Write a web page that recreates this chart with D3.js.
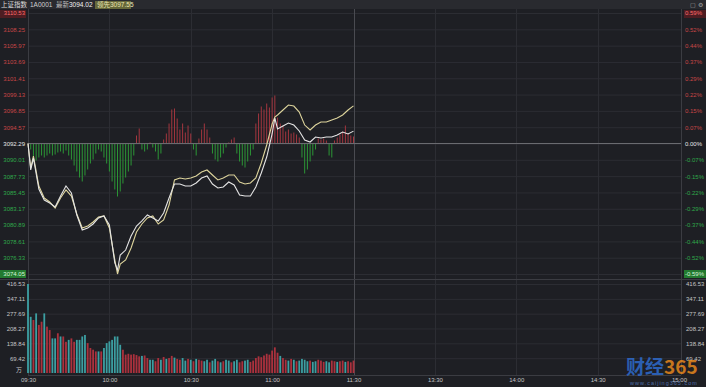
<!DOCTYPE html>
<html>
<head>
<meta charset="utf-8">
<script src="https://cdn.jsdelivr.net/npm/d3@7"></script>
<style>
  html, body { margin: 0; padding: 0; background: #1e1f24; }
  svg { display: block; }
</style>
</head>
<body>
<div id="chart"></div>
<script>
// intraday chart, SSE composite index (上证指数), morning session

const BASE = 3092.29; // prior close

// price axis (left) and percent axis (right)
const priceTicks = [3110.53, 3108.25, 3105.97, 3103.69, 3101.41, 3099.13, 3096.85, 3094.57,
  3092.29, 3090.01, 3087.73, 3085.45, 3083.17, 3080.89, 3078.61, 3076.33, 3074.05];
const pctTicks = ["0.59%", "0.52%", "0.44%", "0.37%", "0.29%", "0.22%", "0.15%", "0.07%",
  "0.00%", "-0.07%", "-0.15%", "-0.22%", "-0.29%", "-0.37%", "-0.44%", "-0.52%", "-0.59%"];
const volTicks = [416.53, 347.11, 277.69, 208.27, 138.84, 69.42];

// minutes since 09:30 (lunch break removed: 11:30 -> 120, 15:00 -> 240)
const timeTicks = [0, 30, 60, 90, 120, 150, 180, 210, 240];
const timeLabels = ["09:30", "10:00", "10:30", "11:00", "11:30", "13:30", "14:00", "14:30", "15:00"];

// line samples
const lineTimes = [0, 1, 2, 4, 6, 8, 10, 12, 14, 16, 18, 20, 22, 24, 26, 28, 30, 32, 33, 34,
  36, 38, 40, 42, 44, 46, 48, 50, 52, 54, 56, 58, 60, 62, 64, 66, 68, 70, 72, 74, 76, 78,
  80, 82, 84, 86, 88, 90, 91, 92, 94, 96, 98, 100, 102, 104, 106, 108, 110, 112, 114, 116, 118, 120];

// white line: index (最新)
const priceLine = [3092.29, 3088.59, 3090.26, 3085.93, 3084.39, 3083.97, 3083.41, 3084.95, 3086.35,
  3085.37, 3082.30, 3080.20, 3080.48, 3081.04, 3081.88, 3082.16, 3080.90, 3075.59, 3074.61, 3076.71,
  3077.40, 3079.36, 3080.76, 3081.46, 3082.30, 3081.88, 3081.46, 3082.58, 3084.67, 3086.63, 3086.63,
  3086.35, 3086.35, 3086.77, 3087.47, 3087.75, 3086.63, 3086.07, 3086.21, 3086.91, 3086.49, 3085.09,
  3084.95, 3084.95, 3086.21, 3088.17, 3090.40, 3093.62, 3095.85, 3094.32, 3094.73, 3095.15, 3094.87,
  3094.04, 3092.78, 3092.50, 3093.20, 3093.06, 3093.20, 3093.20, 3093.48, 3093.90, 3093.62, 3094.02];

// yellow line: leading index (领先)
const leadLine = [3092.29, 3088.86, 3090.54, 3086.35, 3084.67, 3084.11, 3083.27, 3084.67, 3085.79,
  3084.95, 3082.44, 3080.48, 3080.76, 3081.32, 3082.02, 3082.16, 3080.48, 3076.01, 3074.05, 3075.45,
  3076.01, 3077.68, 3079.92, 3081.04, 3081.88, 3082.16, 3081.04, 3081.60, 3083.69, 3087.19, 3087.47,
  3087.33, 3087.47, 3087.75, 3088.31, 3088.59, 3087.89, 3087.19, 3087.47, 3087.89, 3087.89, 3086.91,
  3086.63, 3086.77, 3087.47, 3089.56, 3092.08, 3095.01, 3095.99, 3096.27, 3096.97, 3097.67, 3097.53,
  3096.69, 3094.87, 3094.18, 3094.87, 3095.29, 3095.29, 3095.57, 3095.85, 3096.27, 3096.97, 3097.55];

// red / green strength bars, minute 1..120
const strength = [
  -6, -18, -17, -14, -12, -14, -12, -10, -12, -11,
  -9, -8, -10, -7, -12, -16, -22, -28, -34, -38,
  -32, -26, -20, -16, -10, -6, -8, -14, -20, -28,
  -38, -46, -53, -48, -40, -34, -28, -22, -12, 8,
  15, -6, -8, -6, 1, -4, -8, -16, -10, 4,
  10, 20, 34, 35, 25, 14, 20, 11, 18, 10,
  -6, -12, 5, 14, 20, 14, 6, -10, -16, -18,
  -14, -10, -4, 1, 4, 6, -10, -18, -22, -24,
  -18, -12, -6, 20, 30, 37, 34, 40, 36, 46,
  48, 26, 20, 18, 12, 14, 10, 11, 9, 6,
  -14, -30, -26, -18, -12, -6, 5, 4, 5, 3,
  -12, -14, 3, 6, 9, 12, 18, 10, 8, 7];

// volume (万), minute 0..120
const volume = [416.53,
  263, 248, 279, 225, 240, 279, 217, 201, 162, 162,
  186, 171, 171, 146, 155, 162, 146, 155, 155, 171,
  178, 140, 117, 109, 101, 101, 101, 117, 140, 148,
  155, 171, 171, 132, 109, 86, 90, 86, 88, 84,
  78, 80, 82, 70, 62, 62, 55, 70, 62, 75,
  66, 70, 80, 72, 66, 62, 70, 58, 66, 62,
  55, 66, 62, 58, 55, 62, 50, 58, 66, 55,
  50, 55, 62, 58, 50, 55, 62, 50, 55, 58,
  62, 52, 58, 70, 78, 74, 82, 90, 86, 105,
  120, 95, 80, 70, 62, 58, 66, 62, 55, 58,
  66, 62, 55, 58, 52, 55, 62, 58, 52, 55,
  50, 58, 55, 52, 55, 58, 52, 55, 50, 58];
// u = up minute (red), d = down minute (teal)
const volDir = ("d" +
  "duduuduudd" + "uduuduuddd" + "duuuududdd" + "dddduuuuuu" +
  "uduudduudu" + "duuduuddud" + "uduudduddu" + "duddudduud" +
  "duuuuuuuuu" + "uuduudud" + "ud" + "dddudduuud" + "duuduuduuu").split("");

const FONT = "'Liberation Sans', Arial, sans-serif";
const C = {
  bg: "#1e1f24",
  header: "#292a2f",
  grid: "#2c2d33",
  border: "#3b3c42",
  base: "#6a6b70",
  red: "#c84646",
  green: "#2fa84a",
  barRed: "#a3363f",
  barGreen: "#2c9636",
  volRed: "#ab313d",
  volTeal: "#3c9fa2",
  white: "#e4e4e4",
  yellow: "#ddd49c",
  label: "#c4c4c4"
};

const W = 706, H = 387;
const plotL = 28, plotR = 681;

const svg = d3.select("#chart").append("svg")
  .attr("width", W).attr("height", H)
  .attr("viewBox", [0, 0, W, H])
  .style("font-family", FONT);

svg.append("rect").attr("width", W).attr("height", H).attr("fill", C.bg);

const x = d3.scaleLinear().domain([0, 240]).range([28, 679]);
const y = d3.scaleLinear().domain([3074.05, 3110.53]).range([274, 13]);
const yInd = d3.scaleLinear().domain([-130.5, 130.5]).range([274, 13]);
const yVol = d3.scaleLinear().domain([0, 416.53]).range([373, 284]);

// ---- header bar ----
svg.append("rect").attr("x", 0).attr("y", 0).attr("width", W).attr("height", 9).attr("fill", C.header);
svg.append("rect").attr("x", 95).attr("y", 1).attr("width", 36).attr("height", 8).attr("fill", "#66683a");
const hdr = svg.append("g").attr("font-size", 6.5);
hdr.append("text").attr("x", 1).attr("y", 7)
  .attr("font-family", "'Noto Sans CJK SC', sans-serif").attr("fill", "#dcdcdc").text("上证指数");
hdr.append("text").attr("x", 30).attr("y", 7).attr("fill", "#cfcfcf").text("1A0001");
const t1 = hdr.append("text").attr("x", 56).attr("y", 7);
t1.append("tspan").attr("font-family", "'Noto Sans CJK SC', sans-serif").attr("fill", "#bdbdbd").text("最新");
t1.append("tspan").attr("fill", "#f2f2f2").text("3094.02");
const t2 = hdr.append("text").attr("x", 97).attr("y", 7);
t2.append("tspan").attr("font-family", "'Noto Sans CJK SC', sans-serif").attr("fill", "#ece6b0").text("领先");
t2.append("tspan").attr("fill", "#ece6b0").text("3097.55");
hdr.append("text").attr("x", 690).attr("y", 7).attr("fill", "#a0a0a0").attr("font-size", 6).text("▢ ⚙");

// ---- grid ----
const grid = svg.append("g");
grid.selectAll("line.hp").data(priceTicks).enter().append("line")
  .attr("x1", plotL).attr("x2", plotR)
  .attr("y1", d => y(d) + 0.5).attr("y2", d => y(d) + 0.5)
  .attr("stroke", C.grid).attr("stroke-width", 1);
grid.selectAll("line.hv").data(volTicks).enter().append("line")
  .attr("x1", plotL).attr("x2", plotR)
  .attr("y1", d => yVol(d) + 0.5).attr("y2", d => yVol(d) + 0.5)
  .attr("stroke", C.grid).attr("stroke-width", 1);
grid.selectAll("line.v").data(timeTicks.slice(1, -1)).enter().append("line")
  .attr("x1", d => Math.round(x(d)) + 0.5).attr("x2", d => Math.round(x(d)) + 0.5)
  .attr("y1", 9).attr("y2", 375)
  .attr("stroke", d => d === 120 ? "#4a4b51" : C.grid).attr("stroke-width", 1);

// borders
grid.append("line").attr("x1", plotL + 0.5).attr("x2", plotL + 0.5).attr("y1", 9).attr("y2", 375).attr("stroke", C.border);
grid.append("line").attr("x1", plotR + 0.5).attr("x2", plotR + 0.5).attr("y1", 9).attr("y2", 375).attr("stroke", C.border);
grid.append("line").attr("x1", 0).attr("x2", W).attr("y1", 279.5).attr("y2", 279.5).attr("stroke", C.border);
grid.append("line").attr("x1", plotL).attr("x2", plotR).attr("y1", 375.5).attr("y2", 375.5).attr("stroke", C.border);

// highlighted extreme labels
const hl = svg.append("g");
hl.append("rect").attr("x", 0).attr("y", 10).attr("width", 26).attr("height", 8).attr("fill", "#4e1d22");
hl.append("rect").attr("x", 0).attr("y", 270).attr("width", 26).attr("height", 8).attr("fill", "#237a30");
hl.append("rect").attr("x", 684).attr("y", 10).attr("width", 22).attr("height", 8).attr("fill", "#4e1d22");
hl.append("rect").attr("x", 684).attr("y", 270).attr("width", 22).attr("height", 8).attr("fill", "#237a30");

// ---- strength bars ----
const zeroY = yInd(0);
svg.append("g").selectAll("rect").data(strength).enter().append("rect")
  .attr("x", (d, i) => x(i + 1) - 0.5)
  .attr("y", d => d >= 0 ? yInd(d) : zeroY)
  .attr("width", 1)
  .attr("height", d => Math.abs(yInd(d) - zeroY))
  .attr("fill", d => d >= 0 ? C.barRed : C.barGreen);

// base line (prior close)
svg.append("line").attr("x1", plotL).attr("x2", plotR)
  .attr("y1", y(BASE)).attr("y2", y(BASE))
  .attr("stroke", C.base).attr("stroke-width", 1);

// ---- price lines ----
const line = d3.line().x(d => x(d[0])).y(d => y(d[1]));
svg.append("path").datum(lineTimes.map((t, i) => [t, leadLine[i]]))
  .attr("d", line).attr("fill", "none").attr("stroke", C.yellow).attr("stroke-width", 1.1);
svg.append("path").datum(lineTimes.map((t, i) => [t, priceLine[i]]))
  .attr("d", line).attr("fill", "none").attr("stroke", C.white).attr("stroke-width", 1.1);

// ---- volume bars ----
svg.append("g").selectAll("rect").data(volume).enter().append("rect")
  .attr("x", (d, i) => x(i) - 0.9)
  .attr("y", d => yVol(d))
  .attr("width", 1.8)
  .attr("height", d => yVol(0) - yVol(d))
  .attr("fill", (d, i) => volDir[i] === "u" ? C.volRed : C.volTeal);

// ---- axes ----
function priceColor(d) {
  if (d === 3110.53 || d === 3074.05) return d > BASE ? "#ff6a6a" : "#d8f5d8";
  return d > BASE ? C.red : d < BASE ? C.green : "#e6e6e6";
}

const leftAxis = svg.append("g").attr("transform", "translate(25,0)")
  .call(d3.axisLeft(y).tickValues(priceTicks).tickSize(0).tickPadding(0).tickFormat(d3.format(".2f")));
leftAxis.select(".domain").remove();
leftAxis.selectAll("text").attr("font-size", 6).attr("font-family", FONT)
  .attr("fill", d => priceColor(d));

const rightAxis = svg.append("g").attr("transform", "translate(685,0)")
  .call(d3.axisRight(y).tickValues(priceTicks).tickSize(0).tickPadding(0).tickFormat((d, i) => pctTicks[i]));
rightAxis.select(".domain").remove();
rightAxis.selectAll("text").attr("font-size", 6).attr("font-family", FONT)
  .attr("fill", d => priceColor(d));

const volLeft = svg.append("g").attr("transform", "translate(25,0)")
  .call(d3.axisLeft(yVol).tickValues(volTicks).tickSize(0).tickPadding(0).tickFormat(d3.format(".2f")));
volLeft.select(".domain").remove();
volLeft.selectAll("text").attr("font-size", 6).attr("font-family", FONT).attr("fill", C.label);

const volRight = svg.append("g").attr("transform", "translate(686,0)")
  .call(d3.axisRight(yVol).tickValues(volTicks).tickSize(0).tickPadding(0).tickFormat(d3.format(".2f")));
volRight.select(".domain").remove();
volRight.selectAll("text").attr("font-size", 6).attr("font-family", FONT).attr("fill", C.label);

svg.append("text").attr("x", 22).attr("y", 372).attr("text-anchor", "end")
  .attr("font-size", 6).attr("font-family", "'Noto Sans CJK SC', sans-serif")
  .attr("fill", C.label).text("万");

const timeAxis = svg.append("g").attr("transform", "translate(0,376)")
  .call(d3.axisBottom(x).tickValues(timeTicks).tickSize(0).tickPadding(2).tickFormat((d, i) => timeLabels[i]));
timeAxis.select(".domain").remove();
timeAxis.selectAll("text").attr("font-size", 6).attr("font-family", FONT).attr("fill", C.label);

// ---- watermark (semi-transparent, sits over the bottom-right labels) ----
const wm = svg.append("g").attr("opacity", 0.8);
const wmText = wm.append("text").attr("x", 626).attr("y", 374)
  .attr("font-size", 19).attr("font-weight", "bold")
  .attr("font-family", "'Noto Sans CJK SC', sans-serif");
wmText.append("tspan").attr("fill", "#2f6fd6").text("财经");
wmText.append("tspan").attr("fill", "#f28c1c").text("365");
wm.append("text").attr("x", 630).attr("y", 385).attr("font-size", 5.5)
  .attr("font-family", FONT).attr("fill", "#5b7fc4").attr("letter-spacing", 1)
  .text("www.caijing365.com");
</script>
</body>
</html>
